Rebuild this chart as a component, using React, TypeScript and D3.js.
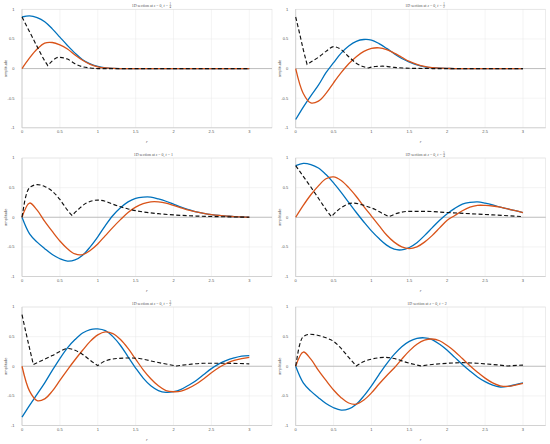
import React from "react";
import * as d3 from "d3";

// ---- data ----
const R = [0, 0.1, 0.2, 0.3, 0.4, 0.5, 0.6, 0.7, 0.8, 0.9, 1.0, 1.1, 1.2, 1.3, 1.4, 1.5, 1.6, 1.7, 1.8, 1.9, 2.0, 2.1, 2.2, 2.3, 2.4, 2.5, 2.6, 2.7, 2.8, 2.9, 3.0];

const titles = [
  { num: "1", den: "4" },
  { num: "1", den: "2" },
  { num: "1", den: "" },
  { num: "5", den: "4" },
  { num: "3", den: "2" },
  { num: "2", den: "" },
];

const blue1 = [0.87, 0.89, 0.86, 0.79, 0.67, 0.53, 0.39, 0.26, 0.15, 0.08, 0.035, 0.012, 0.003, 0, 0, 0, 0, 0, 0, 0, 0, 0, 0, 0, 0, 0, 0, 0, 0, 0, 0];
const orange1 = [0, 0.18, 0.33, 0.43, 0.44, 0.4, 0.33, 0.23, 0.14, 0.07, 0.03, 0.01, 0.002, 0, 0, 0, 0, 0, 0, 0, 0, 0, 0, 0, 0, 0, 0, 0, 0, 0, 0];
const dashR1 = [0, 0.1, 0.2, 0.3, 0.34, 0.4, 0.48, 0.6, 0.7, 0.8, 0.9, 1.0, 3.0];
const dashV1 = [0.87, 0.62, 0.37, 0.13, 0.05, 0.13, 0.19, 0.16, 0.08, 0.03, 0.01, 0.0, 0.0];

const blue2 = [-0.86, -0.65, -0.46, -0.28, -0.07, 0.1, 0.26, 0.38, 0.46, 0.49, 0.48, 0.42, 0.34, 0.25, 0.17, 0.11, 0.06, 0.03, 0.015, 0.006, 0.002, 0, 0, 0, 0, 0, 0, 0, 0, 0, 0];
const orange2 = [0, -0.42, -0.58, -0.55, -0.42, -0.24, -0.07, 0.08, 0.2, 0.29, 0.34, 0.35, 0.32, 0.26, 0.19, 0.12, 0.07, 0.035, 0.015, 0.006, 0.002, 0, 0, 0, 0, 0, 0, 0, 0, 0, 0];
const dashR2 = [0, 0.05, 0.1, 0.15, 0.2, 0.3, 0.4, 0.5, 0.6, 0.7, 0.8, 0.9, 0.96, 1.05, 1.15, 1.3, 1.5, 1.8, 3.0];
const dashV2 = [0.87, 0.6, 0.32, 0.07, 0.11, 0.19, 0.29, 0.37, 0.32, 0.2, 0.09, 0.03, 0.01, 0.035, 0.04, 0.02, 0.005, 0.0, 0.0];

const blue3 = [0, -0.28, -0.42, -0.53, -0.63, -0.7, -0.74, -0.72, -0.64, -0.5, -0.33, -0.14, 0.03, 0.16, 0.26, 0.32, 0.34, 0.34, 0.31, 0.27, 0.22, 0.17, 0.13, 0.09, 0.065, 0.045, 0.03, 0.02, 0.01, 0.005, 0];
const orange3 = [0, 0.24, 0.12, -0.07, -0.24, -0.4, -0.53, -0.62, -0.63, -0.56, -0.45, -0.31, -0.17, -0.04, 0.08, 0.17, 0.23, 0.26, 0.26, 0.24, 0.2, 0.16, 0.12, 0.09, 0.065, 0.045, 0.03, 0.02, 0.01, 0.005, 0];
const dashR3 = [0, 0.05, 0.1, 0.2, 0.3, 0.4, 0.5, 0.6, 0.66, 0.75, 0.85, 1.0, 1.1, 1.2, 1.4, 1.6, 1.8, 2.0, 2.3, 2.6, 3.0];
const dashV3 = [0, 0.35, 0.5, 0.55, 0.52, 0.44, 0.3, 0.12, 0.03, 0.14, 0.24, 0.29, 0.27, 0.22, 0.14, 0.09, 0.06, 0.04, 0.02, 0.01, 0];

const blue4 = [0.87, 0.91, 0.89, 0.83, 0.72, 0.58, 0.42, 0.25, 0.08, -0.08, -0.23, -0.36, -0.47, -0.54, -0.55, -0.51, -0.43, -0.31, -0.18, -0.05, 0.06, 0.15, 0.22, 0.25, 0.26, 0.24, 0.21, 0.17, 0.14, 0.11, 0.08];
const orange4 = [0, 0.2, 0.38, 0.53, 0.65, 0.68, 0.62, 0.5, 0.35, 0.18, 0.02, -0.14, -0.3, -0.42, -0.5, -0.53, -0.5, -0.42, -0.31, -0.18, -0.05, 0.03, 0.11, 0.17, 0.2, 0.2, 0.19, 0.17, 0.14, 0.11, 0.08];
const dashR4 = [0, 0.1, 0.2, 0.3, 0.4, 0.47, 0.55, 0.65, 0.76, 0.9, 1.05, 1.15, 1.23, 1.35, 1.5, 1.7, 2.0, 2.3, 2.6, 3.0];
const dashV4 = [0.87, 0.69, 0.51, 0.32, 0.13, 0.01, 0.11, 0.2, 0.24, 0.2, 0.13, 0.06, 0.01, 0.07, 0.1, 0.1, 0.08, 0.06, 0.04, 0.01];

const blue5 = [-0.86, -0.66, -0.47, -0.28, -0.07, 0.13, 0.31, 0.45, 0.56, 0.62, 0.63, 0.6, 0.5, 0.35, 0.16, -0.03, -0.2, -0.33, -0.41, -0.44, -0.43, -0.39, -0.32, -0.24, -0.14, -0.04, 0.04, 0.1, 0.14, 0.17, 0.18];
const orange5 = [0, -0.42, -0.58, -0.55, -0.42, -0.24, -0.06, 0.11, 0.27, 0.42, 0.53, 0.58, 0.55, 0.45, 0.3, 0.12, -0.06, -0.21, -0.33, -0.41, -0.43, -0.42, -0.37, -0.3, -0.21, -0.11, -0.02, 0.05, 0.1, 0.13, 0.15];
const dashR5 = [0, 0.05, 0.1, 0.15, 0.25, 0.4, 0.5, 0.61, 0.7, 0.8, 0.9, 1.0, 1.1, 1.25, 1.4, 1.55, 1.7, 1.85, 2.04, 2.2, 2.4, 2.7, 3.0];
const dashV5 = [0.87, 0.58, 0.3, 0.03, 0.09, 0.18, 0.25, 0.3, 0.27, 0.2, 0.1, 0.01, 0.09, 0.13, 0.14, 0.13, 0.09, 0.05, 0.005, 0.03, 0.05, 0.05, 0.04];

const blue6 = [0, -0.28, -0.42, -0.53, -0.63, -0.7, -0.74, -0.72, -0.64, -0.5, -0.33, -0.14, 0.04, 0.2, 0.33, 0.42, 0.47, 0.48, 0.45, 0.37, 0.27, 0.15, 0.03, -0.08, -0.18, -0.26, -0.32, -0.35, -0.34, -0.31, -0.28];
const orange6 = [0, 0.24, 0.12, -0.07, -0.24, -0.4, -0.53, -0.62, -0.64, -0.57, -0.45, -0.3, -0.16, -0.03, 0.12, 0.26, 0.37, 0.44, 0.46, 0.43, 0.35, 0.25, 0.13, 0.01, -0.1, -0.2, -0.28, -0.33, -0.34, -0.32, -0.29];
const dashR6 = [0, 0.05, 0.1, 0.19, 0.3, 0.4, 0.5, 0.6, 0.7, 0.8, 0.9, 1.0, 1.18, 1.3, 1.45, 1.65, 1.8, 2.0, 2.2, 2.4, 2.6, 2.8, 3.0];
const dashV6 = [0, 0.35, 0.5, 0.54, 0.52, 0.48, 0.42, 0.3, 0.15, 0.005, 0.08, 0.12, 0.15, 0.13, 0.07, 0.005, 0.03, 0.05, 0.06, 0.05, 0.03, 0.005, 0.02];

const xTicks = [0, 0.5, 1, 1.5, 2, 2.5, 3];
const xTickLabels = ["0", "0.5", "1", "1.5", "2", "2.5", "3"];
const yTicks = [-1, -0.5, 0, 0.5, 1];
const yTickLabels = ["-1", "-0.5", "0", "0.5", "1"];

const panels = [
  { blue: blue1, orange: orange1, dr: dashR1, dv: dashV1 },
  { blue: blue2, orange: orange2, dr: dashR2, dv: dashV2 },
  { blue: blue3, orange: orange3, dr: dashR3, dv: dashV3 },
  { blue: blue4, orange: orange4, dr: dashR4, dv: dashV4 },
  { blue: blue5, orange: orange5, dr: dashR5, dv: dashV5 },
  { blue: blue6, orange: orange6, dr: dashR6, dv: dashV6 },
];

// ---- layout ----
const W = 550, H = 444;
const colLeft = [22, 295.7];
const rowTop = [9.3, 158, 307];
const plotW = 250;
const plotH = 118.5;

const BLUE = "#0072BD";
const ORANGE = "#D95319";

function dashedPath(rs: number[], vs: number[], x: any, y: any) {
  const pts = rs.map((r, i) => [r, vs[i]] as [number, number]);
  const cuts: number[] = [0];
  for (let i = 1; i < pts.length - 1; i++) {
    if (vs[i] < vs[i - 1] && vs[i] < vs[i + 1]) cuts.push(i);
  }
  cuts.push(pts.length - 1);
  const gen = d3.line<[number, number]>().x(d => x(d[0])).y(d => y(d[1])).curve(d3.curveMonotoneX);
  let out = "";
  for (let k = 0; k < cuts.length - 1; k++) {
    const seg = pts.slice(cuts[k], cuts[k + 1] + 1);
    let p = gen(seg) || "";
    if (k > 0) p = "L" + p.slice(1);
    out += p;
  }
  return out;
}

function Panel({ idx }: { idx: number }) {
  const col = idx % 2;
  const row = Math.floor(idx / 2);
  const left = colLeft[col];
  const top = rowTop[row];
  const x = d3.scaleLinear().domain([0, 3.3]).range([left, left + plotW]);
  const y = d3.scaleLinear().domain([-1, 1]).range([top + plotH, top]);
  const p = panels[idx];
  const line = d3.line<number>().x((_, i) => x(R[i])).y(d => y(d)).curve(d3.curveCatmullRom.alpha(0.5));
  const bottom = top + plotH;
  const cx = left + plotW / 2;
  const t = titles[idx];
  const ty = top - 2.3;
  const txt = "#555";
  return (
    <g>
      {xTicks.map(v => (
        <line key={"gx" + v} x1={x(v)} x2={x(v)} y1={top} y2={bottom} stroke="#e8e8e8" strokeWidth={0.5} />
      ))}
      {yTicks.map(v => (
        <line key={"gy" + v} x1={left} x2={left + plotW} y1={y(v)} y2={y(v)} stroke="#e8e8e8" strokeWidth={0.5} />
      ))}
      <rect x={left} y={top} width={plotW} height={plotH} fill="none" stroke="#dadada" strokeWidth={0.5} />
      <line x1={left} x2={left} y1={top} y2={bottom} stroke="#c4c4c4" strokeWidth={0.6} />
      <line x1={left} x2={left + plotW} y1={bottom} y2={bottom} stroke="#c4c4c4" strokeWidth={0.6} />
      <line x1={left} x2={left + plotW} y1={y(0)} y2={y(0)} stroke="#a8a8a8" strokeWidth={0.7} />
      {xTicks.map((v, i) => (
        <text key={"tx" + v} x={x(v)} y={bottom + 5.6} fontSize={4} textAnchor="middle" fill={txt} fontFamily="Liberation Sans, Arial, sans-serif">{xTickLabels[i]}</text>
      ))}
      {yTicks.map((v, i) => (
        <text key={"ty" + v} x={left - 7.5} y={y(v) + 1.4} fontSize={4} textAnchor="end" fill={txt} fontFamily="Liberation Sans, Arial, sans-serif">{yTickLabels[i]}</text>
      ))}
      <text x={left - 16.5} y={top + plotH / 2} fontSize={4} textAnchor="middle" fill={txt} fontFamily="Liberation Sans, Arial, sans-serif" transform={`rotate(-90 ${left - 16.5} ${top + plotH / 2})`} dy={1.4}>amplitude</text>
      <text x={cx} y={bottom + 15} fontSize={4.5} textAnchor="middle" fill={txt} fontFamily="Liberation Serif, serif" fontStyle="italic">r</text>
      <text x={cx + (t.den ? 21 : 23)} y={ty} fontSize={4} textAnchor="end" fill={txt} fontFamily="Liberation Serif, serif">
        1D section at <tspan fontStyle="italic">z</tspan> = 0, <tspan fontStyle="italic">t</tspan> =
      </text>
      {t.den ? (
        <g>
          <text x={cx + 23.3} y={ty - 1.9} fontSize={3} textAnchor="middle" fill={txt} fontFamily="Liberation Serif, serif">{t.num}</text>
          <line x1={cx + 22.1} x2={cx + 24.5} y1={ty - 1.3} y2={ty - 1.3} stroke={txt} strokeWidth={0.25} />
          <text x={cx + 23.3} y={ty + 1.1} fontSize={3} textAnchor="middle" fill={txt} fontFamily="Liberation Serif, serif">{t.den}</text>
        </g>
      ) : (
        <text x={cx + 24} y={ty} fontSize={4} textAnchor="start" fill={txt} fontFamily="Liberation Serif, serif">{t.num}</text>
      )}
      <path d={line(p.blue) || ""} fill="none" stroke={BLUE} strokeWidth={1.3} />
      <path d={line(p.orange) || ""} fill="none" stroke={ORANGE} strokeWidth={1.3} />
      <path d={dashedPath(p.dr, p.dv, x, y)} fill="none" stroke="#111" strokeWidth={1.15} strokeDasharray="4,2.4" />
    </g>
  );
}

export default function App() {
  return (
    <svg width={W} height={H} viewBox={`0 0 ${W} ${H}`} style={{ position: "absolute", left: 0, top: 0, background: "#fff" }}>
      <rect x={0} y={0} width={W} height={H} fill="#fff" />
      {panels.map((_, i) => (
        <Panel key={i} idx={i} />
      ))}
    </svg>
  );
}
